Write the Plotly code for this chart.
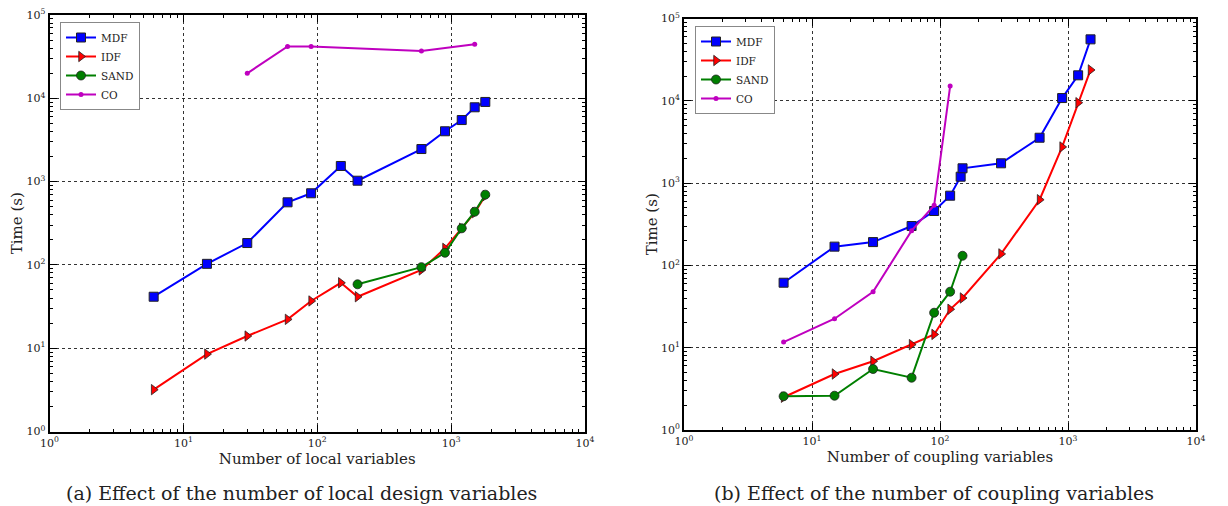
import plotly.graph_objects as go

# ---------------- data: panel (a) local variables ----------------
a_mdf_x = [6, 15, 30, 60, 90, 150, 200, 600, 900, 1200, 1500, 1800]
a_mdf_y = [41.5, 103, 183, 564, 724, 1540, 1025, 2460, 4020, 5480, 7800, 9040]
a_idf_x = [6, 15, 30, 60, 90, 150, 200, 600, 900, 1200, 1500, 1800]
a_idf_y = [3.18, 8.5, 14.0, 22.2, 36.9, 61, 41.5, 87, 158, 275, 424, 677]
a_sand_x = [200, 600, 900, 1200, 1500, 1800]
a_sand_y = [58.5, 94, 140, 275, 435, 697]
a_co_x = [30, 60, 90, 600, 1500]
a_co_y = [19950, 42000, 42000, 37000, 44500]

# ---------------- data: panel (b) coupling variables ----------------
b_mdf_x = [6, 15, 30, 60, 90, 120, 145, 150, 300, 600, 900, 1200, 1500]
b_mdf_y = [61.6, 169, 192, 301, 458, 703, 1196, 1513, 1740, 3560, 10800, 20400, 55800]
b_idf_x = [6, 15, 30, 60, 90, 120, 150, 300, 600, 900, 1200, 1500]
b_idf_y = [2.5, 4.79, 6.84, 10.9, 14.5, 29.3, 40.2, 138, 628, 2750, 9480, 23700]
b_sand_x = [6, 15, 30, 60, 90, 120, 150]
b_sand_y = [2.57, 2.61, 5.51, 4.32, 26.6, 47.9, 131]
b_co_x = [6, 15, 30, 60, 90, 120]
b_co_y = [11.7, 22.5, 47.9, 264, 537, 15100]

x_tickvals = [1, 10, 100, 1000, 10000]
x_ticktext = ["10<sup>0</sup>", "10<sup>1</sup>", "10<sup>2</sup>", "10<sup>3</sup>", "10<sup>4</sup>"]
y_tickvals = [1, 10, 100, 1000, 10000, 100000]
y_ticktext = ["10<sup>0</sup>", "10<sup>1</sup>", "10<sup>2</sup>", "10<sup>3</sup>", "10<sup>4</sup>", "10<sup>5</sup>"]

BLUE = "#0000ff"
RED = "#ff0000"
GREEN = "#007f00"
MAG = "#bf00bf"
FONT = "DejaVu Serif"

minor_x = [m * 10 ** k for k in range(0, 4) for m in range(2, 10)]
minor_y = [m * 10 ** k for k in range(0, 5) for m in range(2, 10)]

fig = go.Figure()


def add_series(xa, ya, mdf, idf, sand, co, legend):
    common = dict(xaxis=xa, yaxis=ya, mode="lines+markers", legend=legend)
    fig.add_trace(go.Scatter(x=mdf[0], y=mdf[1], name="MDF",
                             line=dict(color=BLUE, width=2),
                             marker=dict(symbol="square", size=9, color=BLUE,
                                         line=dict(color="#222", width=1)),
                             **common))
    fig.add_trace(go.Scatter(x=idf[0], y=idf[1], name="IDF",
                             line=dict(color=RED, width=2),
                             marker=dict(symbol="triangle-right", size=9, color=RED,
                                         line=dict(color="#222", width=0.8)),
                             **common))
    fig.add_trace(go.Scatter(x=sand[0], y=sand[1], name="SAND",
                             line=dict(color=GREEN, width=2),
                             marker=dict(symbol="circle", size=9, color=GREEN,
                                         line=dict(color="#222", width=0.8)),
                             **common))
    fig.add_trace(go.Scatter(x=co[0], y=co[1], name="CO",
                             line=dict(color=MAG, width=2),
                             marker=dict(symbol="circle", size=5, color=MAG),
                             **common))


add_series("x", "y", (a_mdf_x, a_mdf_y), (a_idf_x, a_idf_y),
           (a_sand_x, a_sand_y), (a_co_x, a_co_y), "legend")
add_series("x2", "y2", (b_mdf_x, b_mdf_y), (b_idf_x, b_idf_y),
           (b_sand_x, b_sand_y), (b_co_x, b_co_y), "legend2")

W, H = 1228, 506


def xax(domain, title):
    return dict(type="log", range=[0, 4], domain=domain, automargin=False,
                tickvals=x_tickvals, ticktext=x_ticktext,
                ticks="inside", ticklen=7, tickwidth=1, tickcolor="black",
                minor=dict(tickvals=minor_x, ticks="inside", ticklen=3,
                           tickcolor="black", showgrid=False),
                showline=True, linecolor="black", linewidth=2, mirror="allticks",
                showgrid=True, gridcolor="#333", griddash="dot", gridwidth=1,
                tickfont=dict(family=FONT, size=11, color="#222"),
                title=dict(text=title, font=dict(family=FONT, size=15, color="#222"),
                           standoff=0),
                zeroline=False)


def yax(domain, anchor):
    return dict(type="log", range=[0, 5], domain=domain, anchor=anchor,
                automargin=False,
                tickvals=y_tickvals, ticktext=y_ticktext,
                ticks="inside", ticklen=7, tickwidth=1, tickcolor="black",
                minor=dict(tickvals=minor_y, ticks="inside", ticklen=3,
                           tickcolor="black", showgrid=False),
                showline=True, linecolor="black", linewidth=2, mirror="allticks",
                showgrid=True, gridcolor="#333", griddash="dot", gridwidth=1,
                tickfont=dict(family=FONT, size=11, color="#222"),
                title=dict(text="Time (s)", font=dict(family=FONT, size=15, color="#222"),
                           standoff=0),
                zeroline=False)


xa_dom = [49.5 / W, 585 / W]
xb_dom = [684 / W, 1196 / W]
ya_dom = [1 - 431.5 / H, 1 - 15 / H]
yb_dom = [1 - 430 / H, 1 - 18.5 / H]

legend_common = dict(xanchor="left", yanchor="top", bgcolor="white",
                     bordercolor="#888", borderwidth=1,
                     font=dict(family=FONT, size=10.5, color="#222"),
                     itemwidth=30, tracegroupgap=0)

fig.update_layout(
    width=W, height=H,
    margin=dict(l=0, r=0, t=0, b=0, autoexpand=False),
    paper_bgcolor="white", plot_bgcolor="white",
    font=dict(family=FONT, color="#222"),
    xaxis=dict(**xax(xa_dom, "Number of local variables"), anchor="y"),
    yaxis=yax(ya_dom, "x"),
    xaxis2=dict(**xax(xb_dom, "Number of coupling variables"), anchor="y2"),
    yaxis2=yax(yb_dom, "x2"),
    legend=dict(x=60 / W, y=1 - 22 / H, **legend_common),
    legend2=dict(x=695 / W, y=1 - 26 / H, **legend_common),
    showlegend=True,
    annotations=[
        dict(text="(a) Effect of the number of local design variables",
             x=301 / W, y=1 - 493 / H, xref="paper", yref="paper",
             xanchor="center", yanchor="middle",
             showarrow=False, font=dict(family=FONT, size=19, color="#222")),
        dict(text="(b) Effect of the number of coupling variables",
             x=934 / W, y=1 - 493 / H, xref="paper", yref="paper",
             xanchor="center", yanchor="middle",
             showarrow=False, font=dict(family=FONT, size=19, color="#222")),
    ],
)

fig.write_html("out.html")
